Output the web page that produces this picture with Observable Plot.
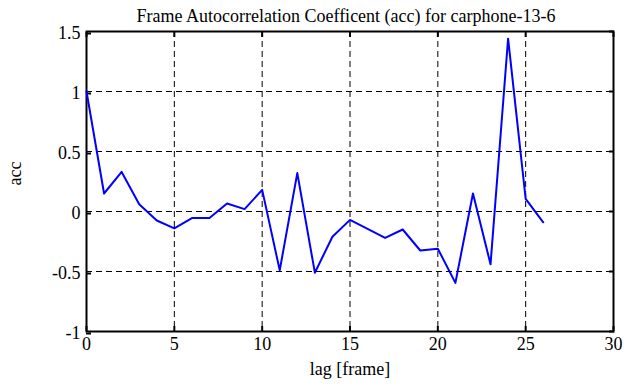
<!DOCTYPE html>
<html><head><meta charset="utf-8">
<script src="https://cdn.jsdelivr.net/npm/d3@7"></script>
<script src="https://cdn.jsdelivr.net/npm/@observablehq/plot@0.6"></script>
<style>
html,body{margin:0;padding:0;background:#fff;}
svg{display:block;}
svg text{font-family:"Liberation Serif","Times New Roman",serif !important;font-variant:normal !important;}
</style>
</head><body>
<div id="chart"></div>
<script>
const lags = [0,1,2,3,4,5,6,7,8,9,10,11,12,13,14,15,16,17,18,19,20,21,22,23,24,25,26];
const acc = [1.0,0.15,0.33,0.06,-0.075,-0.14,-0.055,-0.055,0.067,0.02,0.18,-0.49,0.32,-0.51,-0.21,-0.07,-0.145,-0.22,-0.15,-0.325,-0.31,-0.595,0.15,-0.44,1.44,0.105,-0.09];
const xTicks = [0,5,10,15,20,25,30];
const yTicks = [-1,-0.5,0,0.5,1,1.5];
const title = "Frame Autocorrelation Coefficent (acc) for carphone-13-6";
const xLabel = "lag [frame]";
const yLabel = "acc";

const data = lags.map((l,i)=>({lag:l, acc:acc[i]}));
const fmt = d => String(d);
const FF = "Liberation Serif";

const chart = Plot.plot({
  width: 641, height: 387,
  marginLeft: 86, marginRight: 28, marginTop: 31, marginBottom: 56,
  style: {fontFamily: FF, fontSize: "18px", color: "#000", background: "#fff"},
  x: {domain: [0,30], ticks: xTicks, label: null},
  y: {domain: [-1,1.5], ticks: yTicks, label: null},
  marks: [
    Plot.gridX(xTicks, {stroke: "#000", strokeOpacity: 1, strokeWidth: 1, strokeDasharray: "6,4"}),
    Plot.gridY(yTicks, {stroke: "#000", strokeOpacity: 1, strokeWidth: 1, strokeDasharray: "6,4"}),
    Plot.axisX(xTicks, {anchor: "bottom", tickSize: -5, tickPadding: 11, tickFormat: fmt, strokeWidth: 2, fontSize: 18, fontFamily: FF, fontVariant: "normal"}),
    Plot.axisX(xTicks, {anchor: "top", tickSize: -5, tickFormat: () => "", strokeWidth: 2}),
    Plot.axisY(yTicks, {anchor: "left", tickSize: -5, tickPadding: 11, dy: 2, tickFormat: fmt, strokeWidth: 2, fontSize: 18, fontFamily: FF, fontVariant: "normal"}),
    Plot.axisY(yTicks, {anchor: "right", tickSize: -5, tickFormat: () => "", strokeWidth: 2}),
    Plot.frame({stroke: "#000", strokeWidth: 2}),
    Plot.line(data, {x: "lag", y: "acc", stroke: "#0000ff", strokeWidth: 2}),
    Plot.text([title], {frameAnchor: "top", dx: -4, dy: -22, fontSize: 18, fill: "#000", fontFamily: FF, letterSpacing: "0.85px"}),
    Plot.text([xLabel], {frameAnchor: "bottom", dy: 43, fontSize: 18, fill: "#000", fontFamily: FF}),
    Plot.text([yLabel], {frameAnchor: "left", dx: -71, dy: 4, rotate: -90, fontSize: 18, fill: "#000", fontFamily: FF})
  ]
});
document.getElementById("chart").appendChild(chart);
</script>
</body></html>
